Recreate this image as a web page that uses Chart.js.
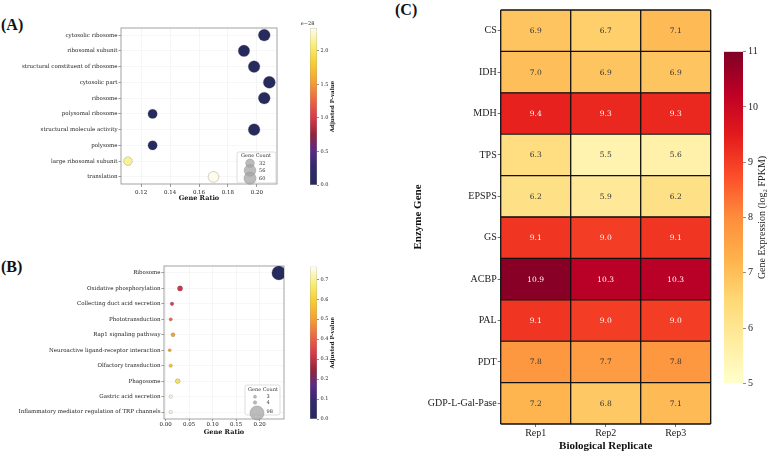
<!DOCTYPE html>
<html>
<head>
<meta charset="utf-8">
<script src="https://cdn.jsdelivr.net/npm/chart.js@4.4.1/dist/chart.umd.min.js"></script>
<style>
  html, body { margin: 0; padding: 0; background: #fff; }
  #wrap { position: relative; width: 767px; height: 453px; overflow: hidden; }
  canvas { position: absolute; }
  .panel { position: absolute; font: bold 16px 'Liberation Serif', serif; color: #111; line-height: 18px; }
</style>
</head>
<body>
<div id="wrap">
  <div class="panel" style="left:1px; top:16px;">(A)</div>
  <div class="panel" style="left:1px; top:258px;">(B)</div>
  <div class="panel" style="left:395px; top:1px;">(C)</div>
  <canvas id="bubbleA" width="300" height="205" style="left:0; top:0;"></canvas>
  <canvas id="cbarA" width="50" height="200" style="left:300px; top:0;"></canvas>
  <canvas id="bubbleB" width="300" height="223" style="left:0; top:230px;"></canvas>
  <canvas id="cbarB" width="50" height="205" style="left:300px; top:230px;"></canvas>
  <canvas id="heat" width="387" height="453" style="left:380px; top:0;"></canvas>
  <canvas id="cbarC" width="67" height="453" style="left:700px; top:0;"></canvas>
</div>
<script>
// ---- (A) GO enrichment ----
const termsA = ['cytosolic ribosome', 'ribosomal subunit', 'structural constituent of ribosome', 'cytosolic part',
  'ribosome', 'polysomal ribosome', 'structural molecule activity', 'polysome', 'large ribosomal subunit', 'translation'];
const ratioA = [0.205, 0.191, 0.198, 0.2085, 0.205, 0.128, 0.198, 0.128, 0.111, 0.170];
const countA = [59, 55, 57, 60, 59, 37, 57, 37, 32, 49];
const padjA = [0, 0, 0, 0, 0, 0, 0, 0, 2.15, 2.33];   // x 1e-28
const ratioRangeA = [0.1062, 0.2138];
const ratioTicksA = [0.12, 0.14, 0.16, 0.18, 0.20];
const legendCountA = [32, 56, 60];
const padjRangeA = [0, 2.34];
const padjTicksA = [0, 0.5, 1.0, 1.5, 2.0];

// ---- (B) KEGG enrichment ----
const termsB = ['Ribosome', 'Oxidative phosphorylation', 'Collecting duct acid secretion', 'Phototransduction',
  'Rap1 signaling pathway', 'Neuroactive ligand-receptor interaction', 'Olfactory transduction', 'Phagosome',
  'Gastric acid secretion', 'Inflammatory mediator regulation of TRP channels'];
const ratioB = [0.241, 0.0306, 0.0135, 0.0107, 0.0156, 0.0085, 0.0107, 0.0256, 0.0107, 0.0107];
const countB = [98, 12, 5, 4, 6, 3, 4, 10, 4, 4];
const padjB = [0.0, 0.32, 0.33, 0.42, 0.50, 0.51, 0.58, 0.65, 0.75, 0.75];
const ratioRangeB = [-0.0036, 0.252];
const ratioTicksB = [0.00, 0.05, 0.10, 0.15, 0.20];
const legendCountB = [3, 4, 98];
const padjRangeB = [0, 0.763];
const padjTicksB = [0, 0.1, 0.2, 0.3, 0.4, 0.5, 0.6, 0.7];

// ---- (C) heatmap ----
const genes = ['CS', 'IDH', 'MDH', 'TPS', 'EPSPS', 'GS', 'ACBP', 'PAL', 'PDT', 'GDP-L-Gal-Pase'];
const reps = ['Rep1', 'Rep2', 'Rep3'];
const rep1 = [6.9, 7.0, 9.4, 6.3, 6.2, 9.1, 10.9, 9.1, 7.8, 7.2];
const rep2 = [6.7, 6.9, 9.3, 5.5, 5.9, 9.0, 10.3, 9.0, 7.7, 6.8];
const rep3 = [7.1, 6.9, 9.3, 5.6, 6.2, 9.1, 10.3, 9.0, 7.8, 7.1];
const exprRange = [5, 11];
const exprTicks = [5, 6, 7, 8, 9, 10, 11];

// colour maps
const pStops = [
  [0.00, '#262a5c'], [0.12, '#35296e'], [0.22, '#5a2a86'], [0.32, '#93243c'], [0.43, '#d73a4a'],
  [0.55, '#ee6a40'], [0.66, '#f5a232'], [0.78, '#f6cf32'], [0.89, '#f8ee78'], [1.00, '#fffdf0']
];
const ylorrd = ['#ffffcc', '#ffeda0', '#fed976', '#feb24c', '#fd8d3c', '#fc4e2a', '#e31a1c', '#bd0026', '#800026']
  .map((c, i) => [i / 8, c]);

function rgb(h) { return [1, 3, 5].map(k => parseInt(h.slice(k, k + 2), 16)); }
function cmapRgb(stops, t) {
  t = Math.max(0, Math.min(1, t));
  for (let i = 0; i < stops.length - 1; i++) {
    const [t0, c0] = stops[i], [t1, c1] = stops[i + 1];
    if (t <= t1) {
      const f = (t - t0) / (t1 - t0), a = rgb(c0), b = rgb(c1);
      return a.map((v, k) => Math.round(v + (b[k] - v) * f));
    }
  }
  return rgb(stops[stops.length - 1][1]);
}
function cmap(stops, t) { return 'rgb(' + cmapRgb(stops, t).join(',') + ')'; }
function lum(c) {
  const l = c.map(v => { v /= 255; return v <= 0.03928 ? v / 12.92 : Math.pow((v + 0.055) / 1.055, 2.4); });
  return 0.2126 * l[0] + 0.7152 * l[1] + 0.0722 * l[2];
}

Chart.defaults.font.family = "'DejaVu Serif', serif";
Chart.defaults.color = '#222';
Chart.defaults.animation = false;
Chart.defaults.plugins.legend.display = false;
Chart.defaults.plugins.tooltip.enabled = false;

// grey frame around the plot area
const frame = {
  id: 'frame',
  beforeDatasetsDraw(chart) {
    const {ctx, chartArea: a} = chart;
    ctx.save();
    ctx.strokeStyle = '#8c8c8c';
    ctx.lineWidth = 0.8;
    ctx.strokeRect(a.left, a.top, a.right - a.left, a.bottom - a.top);
    ctx.restore();
  }
};

// "Gene Count" size legend
function sizeLegend(o) {
  return {
    id: 'sizeLegend',
    afterDatasetsDraw(chart) {
      const c = chart.ctx;
      c.save();
      c.fillStyle = 'rgba(255,255,255,0.85)';
      c.strokeStyle = '#d0d0d0';
      c.lineWidth = 0.7;
      c.beginPath();
      if (c.roundRect) c.roundRect(o.box[0], o.box[1], o.box[2], o.box[3], 2);
      else c.rect(o.box[0], o.box[1], o.box[2], o.box[3]);
      c.fill(); c.stroke();
      c.font = "5px 'DejaVu Serif', serif";
      c.fillStyle = '#333';
      c.textAlign = 'center';
      c.textBaseline = 'middle';
      c.fillText('Gene Count', o.titleX, o.titleY);
      o.counts.forEach((n, i) => {
        c.beginPath();
        c.arc(o.cx[i], o.cy[i], o.r[i], 0, Math.PI * 2);
        c.fillStyle = 'rgba(165,165,165,0.75)';
        c.fill();
        c.strokeStyle = 'rgba(140,140,140,0.9)';
        c.lineWidth = 0.5;
        c.stroke();
        c.fillStyle = '#333';
        c.textAlign = 'left';
        c.fillText(String(n), o.textX, o.ty[i]);
      });
      c.restore();
    }
  };
}

// rotated colorbar label (reads bottom to top) and optional offset text
function sideText(o) {
  return {
    id: 'sideText',
    afterDraw(chart) {
      const c = chart.ctx;
      c.save();
      c.fillStyle = '#222';
      c.textAlign = 'center';
      c.textBaseline = 'middle';
      if (o.offset) {
        c.font = "5px 'DejaVu Serif', serif";
        c.fillText(o.offset, o.offX, o.offY);
      }
      c.translate(o.x, o.y);
      c.rotate(-Math.PI / 2);
      c.font = o.font;
      c.fillText(o.text, 0, 0);
      c.restore();
    }
  };
}

function bubbleChart(id, terms, ratio, count, padj, pMax, range, ticks, rad, geom, legend) {
  return new Chart(document.getElementById(id), {
    type: 'bubble',
    data: {
      datasets: [{
        data: ratio.map((x, i) => ({x: x, y: i, r: rad(count[i])})),
        backgroundColor: padj.map(p => cmap(pStops, p / pMax)),
        borderColor: 'rgba(90,90,90,0.45)',
        borderWidth: 0.6
      }]
    },
    options: {
      responsive: false,
      devicePixelRatio: 1,
      layout: {padding: {left: 0, top: geom.top, right: geom.right, bottom: 0}},
      scales: {
        x: {
          type: 'linear', min: range[0], max: range[1],
          afterBuildTicks: s => { s.ticks = ticks.map(v => ({value: v})); },
          afterFit: s => { s.height = geom.xh; },
          ticks: {font: {size: 5.5}, padding: geom.xpad, maxRotation: 0, autoSkip: false,
                  callback: v => v.toFixed(2)},
          grid: {color: '#efefef', lineWidth: 0.6, tickLength: geom.xtl, tickColor: '#555'},
          border: {display: false},
          title: {display: true, text: 'Gene Ratio', color: '#111',
                  font: {size: 6.5, weight: 'bold'}, padding: {top: 0, bottom: geom.tpad}}
        },
        y: {
          type: 'linear', reverse: true, min: -0.45, max: 9.45,
          afterBuildTicks: s => { s.ticks = terms.map((t, i) => ({value: i})); },
          afterFit: s => { s.width = geom.yw; },
          ticks: {font: {size: 5.5}, padding: 1, autoSkip: false, callback: v => terms[v]},
          grid: {color: '#f2f2f2', lineWidth: 0.6, tickLength: 2.5, tickColor: '#555'},
          border: {display: false}
        }
      }
    },
    plugins: [frame, sizeLegend(legend)]
  });
}

function colorbar(id, stops, lo, hi, ticks, fmt, geom, side) {
  return new Chart(document.getElementById(id), {
    type: 'bar',
    data: {
      labels: [''],
      datasets: [{
        data: [[lo, hi]],
        backgroundColor: c => {
          const a = c.chart.chartArea;
          if (!a) return stops[0][1];
          const g = c.chart.ctx.createLinearGradient(0, a.bottom, 0, a.top);
          stops.forEach(s => g.addColorStop(s[0], s[1]));
          return g;
        },
        borderColor: geom.border,
        borderWidth: geom.bw,
        borderSkipped: false,
        barPercentage: 1,
        categoryPercentage: 1
      }]
    },
    options: {
      responsive: false,
      devicePixelRatio: 1,
      layout: {padding: geom.pad},
      scales: {
        x: {display: false},
        y: {
          position: 'right', min: lo, max: hi,
          afterBuildTicks: s => { s.ticks = ticks.map(v => ({value: v})); },
          afterFit: s => { s.width = geom.yw; },
          ticks: {font: geom.font, padding: geom.tpad, autoSkip: false, callback: fmt},
          grid: {drawOnChartArea: false, tickLength: geom.tl, tickColor: '#444', lineWidth: 0.6},
          border: {display: false}
        }
      }
    },
    plugins: [sideText(side)]
  });
}

// radius from gene count (area roughly proportional to count)
const radA = n => Math.sqrt(0.625 * n - 1.5);
const radB = n => Math.sqrt(0.77 + 0.492 * n);

bubbleChart('bubbleA', termsA, ratioA, countA, padjA, padjRangeA[1], ratioRangeA, ratioTicksA, radA,
  {top: 28, right: 23, xh: 21, xtl: 3, xpad: 2, tpad: 2.8, yw: 121},
  {box: [237, 152, 39, 31], titleX: 256, titleY: 155.5, cx: [250, 250, 250], cy: [163.3, 170.5, 178.3],
   r: legendCountA.map(radA), counts: legendCountA, textX: 259, ty: [163.3, 170.5, 178.3]});

bubbleChart('bubbleB', termsB, ratioB, countB, padjB, padjRangeB[1], ratioRangeB, ratioTicksB, radB,
  {top: 36, right: 16, xh: 34, xtl: 2, xpad: 0.5, tpad: 17.1, yw: 164},
  {box: [245, 155, 35, 30], titleX: 263, titleY: 160, cx: [255, 255, 257], cy: [166.7, 172.5, 183],
   r: legendCountB.map(radB), counts: legendCountB, textX: 266.5, ty: [166.7, 173, 181.7]});

colorbar('cbarA', pStops, padjRangeA[0], padjRangeA[1], padjTicksA, v => v.toFixed(1),
  {pad: {left: 10, top: 28, bottom: 15, right: 0}, yw: 33, font: {size: 5}, tpad: 1.5, tl: 2,
   border: '#9a9a9a', bw: 0.6},
  {text: 'Adjusted P-value', font: "bold 5.5px 'DejaVu Serif', serif", x: 33, y: 106.5,
   offset: '1e\u221228', offX: 6, offY: 24});

colorbar('cbarB', pStops, padjRangeB[0], padjRangeB[1], padjTicksB, v => v.toFixed(1),
  {pad: {left: 10, top: 36.7, bottom: 16, right: 0}, yw: 33, font: {size: 5}, tpad: 1.5, tl: 2,
   border: '#9a9a9a', bw: 0.6},
  {text: 'Adjusted P-value', font: "bold 5.5px 'DejaVu Serif', serif", x: 33, y: 112.8});

colorbar('cbarC', ylorrd, exprRange[0], exprRange[1], exprTicks, v => String(v),
  {pad: {left: 24, top: 51.7, bottom: 69.7, right: 0}, yw: 24,
   font: {family: "'Liberation Serif', serif", size: 10}, tpad: 2, tl: 3, border: 'rgba(0,0,0,0)', bw: 0},
  {text: 'Gene Expression (log\u2082 FPKM)', font: "10px 'Liberation Serif', serif", x: 62, y: 217.5});

// heatmap cells: one floating bar per cell, coloured by expression
const repValues = [rep1, rep2, rep3];
const cellText = {
  id: 'cellText',
  afterDatasetsDraw(chart) {
    const c = chart.ctx;
    const a = chart.chartArea;
    const xs = chart.scales.x;
    c.save();
    // black cell separators
    c.strokeStyle = '#111';
    c.lineWidth = 1.3;
    c.beginPath();
    for (let k = 0; k <= reps.length; k++) {
      const x = xs.getPixelForValue(k);
      c.moveTo(x, a.top); c.lineTo(x, a.bottom);
    }
    const band = (a.bottom - a.top) / genes.length;
    for (let k = 0; k <= genes.length; k++) {
      const y = a.top + k * band;
      c.moveTo(a.left, y); c.lineTo(a.right, y);
    }
    c.stroke();
    c.font = "7.5px 'DejaVu Serif', serif";
    c.textAlign = 'center';
    c.textBaseline = 'middle';
    repValues.forEach((vals, di) => {
      chart.getDatasetMeta(di).data.forEach((el, i) => {
        const col = cmapRgb(ylorrd, (vals[i] - exprRange[0]) / (exprRange[1] - exprRange[0]));
        c.fillStyle = lum(col) < 0.408 ? '#ffffff' : '#333333';
        const p = el.getCenterPoint();
        c.fillText(vals[i].toFixed(1), p.x, p.y + 0.5);
      });
    });
    c.restore();
  }
};

new Chart(document.getElementById('heat'), {
  type: 'bar',
  data: {
    labels: genes,
    datasets: repValues.map((vals, ri) => ({
      label: reps[ri],
      data: genes.map(() => [ri, ri + 1]),
      backgroundColor: vals.map(v => cmap(ylorrd, (v - exprRange[0]) / (exprRange[1] - exprRange[0]))),
      borderWidth: 0,
      grouped: false,
      barPercentage: 1,
      categoryPercentage: 1
    }))
  },
  options: {
    responsive: false,
    devicePixelRatio: 1,
    indexAxis: 'y',
    layout: {padding: {left: 30, top: 10, right: 56.3, bottom: 0}},
    scales: {
      x: {
        type: 'linear', min: 0, max: reps.length,
        afterBuildTicks: s => { s.ticks = reps.map((r, i) => ({value: i + 0.5})); },
        afterFit: s => { s.height = 29; },
        ticks: {font: {family: "'Liberation Serif', serif", size: 10}, padding: 0, maxRotation: 0,
                callback: (v, i) => reps[i]},
        grid: {drawOnChartArea: false, tickLength: 3, tickColor: '#333', lineWidth: 0.7},
        border: {display: false},
        title: {display: true, text: 'Biological Replicate', color: '#111',
                font: {family: "'Liberation Serif', serif", size: 11, weight: 'bold'}, padding: {top: 0, bottom: 0.4}}
      },
      y: {
        afterFit: s => { s.width = 90.7; },
        ticks: {font: {family: "'Liberation Serif', serif", size: 10}, padding: 1},
        grid: {drawOnChartArea: false, offset: false, tickLength: 3, tickColor: '#333', lineWidth: 0.7},
        border: {display: false},
        title: {display: true, text: 'Enzyme Gene', color: '#111',
                font: {family: "'Liberation Serif', serif", size: 11, weight: 'bold'}, padding: {top: 1.4, bottom: 0}}
      }
    }
  },
  plugins: [cellText]
});
</script>
</body>
</html>
